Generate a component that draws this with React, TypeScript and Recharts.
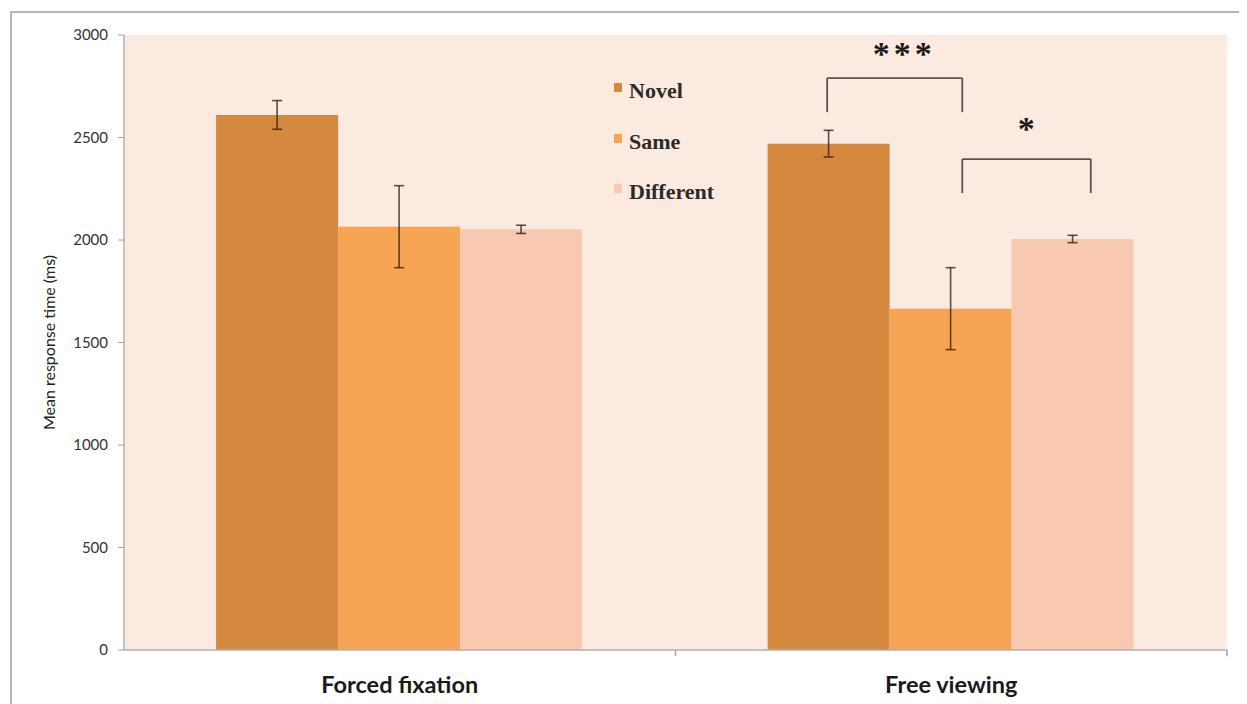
import React from "react";
import { Bar, BarChart, ErrorBar, ReferenceLine, XAxis, YAxis } from "recharts";

// conditions on the x axis
const conditions = ["Forced fixation", "Free viewing"];

// mean response time (ms) and error per stimulus type
const novel = [2610, 2470];
const novelErr = [70, 65];
const same = [2065, 1665];
const sameErr = [200, 200];
const different = [2052, 2005];
const differentErr = [20, 18];

const yTicks = [0, 500, 1000, 1500, 2000, 2500, 3000];

// significance brackets on the 0..2 position scale (one unit per condition), heights in ms
const brackets = [
  { from: 1.275, to: 1.52, top: 2790, leg: 2624, stars: "***", sx: 1.411, sy: 2937 },
  { from: 1.52, to: 1.753, top: 2395, leg: 2229, stars: "*", sx: 1.636, sy: 2571 },
];

const series = [
  { key: "novel", err: "novelErr", name: "Novel", color: "#D4893F" },
  { key: "same", err: "sameErr", name: "Same", color: "#F7A554" },
  { key: "different", err: "differentErr", name: "Different", color: "#F9C8B1" },
];

const data = conditions.map((c, i) => ({
  condition: c,
  pos: i + 0.5,
  novel: novel[i],
  novelErr: novelErr[i],
  same: same[i],
  sameErr: sameErr[i],
  different: different[i],
  differentErr: differentErr[i],
}));

const W = 1239;
const H = 696;
const sans = "Lato, 'Open Sans', sans-serif";
const serif = "'Liberation Serif', 'Times New Roman', serif";

function YLabel(props: any) {
  const { viewBox } = props;
  const cy = viewBox.y + viewBox.height / 2;
  return (
    <text
      x={40}
      y={cy}
      transform={`rotate(-90, 40, ${cy})`}
      textAnchor="middle"
      dominantBaseline="central"
      fontFamily={sans}
      fontSize={16}
      fill="#222"
    >
      Mean response time (ms)
    </text>
  );
}

function CategoryTick(props: any) {
  const { x, y, payload } = props;
  const idx = Math.floor(payload.value);
  return (
    <text
      x={x}
      y={y + 35}
      textAnchor="middle"
      fontFamily={sans}
      fontWeight={700}
      fontSize={23.5}
      fill="#1a1a1a"
    >
      {conditions[idx]}
    </text>
  );
}

function StarsLabel(text: string) {
  return (props: any) => {
    const { viewBox } = props;
    return (
      <text
        x={viewBox.x + 2}
        y={viewBox.y + 17}
        textAnchor="middle"
        fontFamily={serif}
        fontWeight={700}
        fontSize={34}
        letterSpacing={4}
        fill="#1a1a1a"
      >
        {text}
      </text>
    );
  };
}

function LegendBox() {
  return (
    <div style={{ position: "absolute", left: 606, top: 58, fontFamily: serif }}>
      {series.map((s) => (
        <div
          key={s.key}
          style={{
            display: "flex",
            alignItems: "center",
            height: 50.5,
            fontWeight: 700,
            fontSize: 22,
            color: "#2a2a2a",
          }}
        >
          <span
            style={{
              width: 8,
              height: 9,
              background: s.color,
              marginRight: 7,
              marginTop: -7,
            }}
          />
          {s.name}
        </div>
      ))}
    </div>
  );
}

export default function App() {
  return (
    <div style={{ position: "relative", width: W, height: H, background: "#fff" }}>
      <div
        style={{
          position: "absolute",
          left: 2,
          top: 3,
          right: -20,
          bottom: -20,
          borderLeft: "2px solid #b5b5b5",
          borderTop: "2px solid #b5b5b5",
          pointerEvents: "none",
        }}
      />
      <BarChart
        width={W}
        height={H}
        data={data}
        margin={{ top: 27, right: 20, left: 0, bottom: 14 }}
        barCategoryGap="16.7%"
        barGap={0}
      >
        <rect x={116} y={27} width={1103} height={615} fill="#FBEADF" />
        <XAxis
          dataKey="pos"
          type="number"
          domain={[0, 2]}
          ticks={[0.5, 1.5]}
          height={40}
          tickLine={false}
          axisLine={{ stroke: "#b0b0b0", strokeWidth: 1.5 }}
          tick={<CategoryTick />}
        />
        <YAxis
          width={116}
          domain={[0, 3000]}
          ticks={yTicks}
          tickSize={6}
          tickMargin={10}
          tickLine={{ stroke: "#a0a0a0" }}
          axisLine={{ stroke: "#b0b0b0", strokeWidth: 1.5 }}
          tick={{ fontFamily: sans, fontSize: 15, fill: "#333" }}
          label={<YLabel />}
        />
        {series.map((s) => (
          <Bar
            key={s.key}
            dataKey={s.key}
            name={s.name}
            fill={s.color}
            isAnimationActive={false}
          >
            <ErrorBar
              dataKey={s.err}
              width={5}
              stroke="#3a2410"
              strokeOpacity={0.8}
              strokeWidth={1.6}
            />
          </Bar>
        ))}
        {/* boundary tick marks on the category axis */}
        {[1, 2].map((p) => (
          <ReferenceLine
            key={`tick-${p}`}
            ifOverflow="visible"
            segment={[
              { x: p, y: 0 },
              { x: p, y: -30 },
            ]}
            stroke="#a0a0a0"
            strokeWidth={1.5}
          />
        ))}
        {brackets.map((b, i) => (
          <React.Fragment key={`br-${i}`}>
            <ReferenceLine
              ifOverflow="visible"
              segment={[
                { x: b.from, y: b.top },
                { x: b.to, y: b.top },
              ]}
              stroke="#555"
              strokeWidth={1.8}
            />
            <ReferenceLine
              ifOverflow="visible"
              segment={[
                { x: b.from, y: b.top },
                { x: b.from, y: b.leg },
              ]}
              stroke="#555"
              strokeWidth={1.8}
            />
            <ReferenceLine
              ifOverflow="visible"
              segment={[
                { x: b.to, y: b.top },
                { x: b.to, y: b.leg },
              ]}
              stroke="#555"
              strokeWidth={1.8}
            />
            <ReferenceLine
              ifOverflow="visible"
              segment={[
                { x: b.sx, y: b.sy },
                { x: b.sx, y: b.sy },
              ]}
              stroke="none"
              label={StarsLabel(b.stars)}
            />
          </React.Fragment>
        ))}
      </BarChart>
      <LegendBox />
    </div>
  );
}
